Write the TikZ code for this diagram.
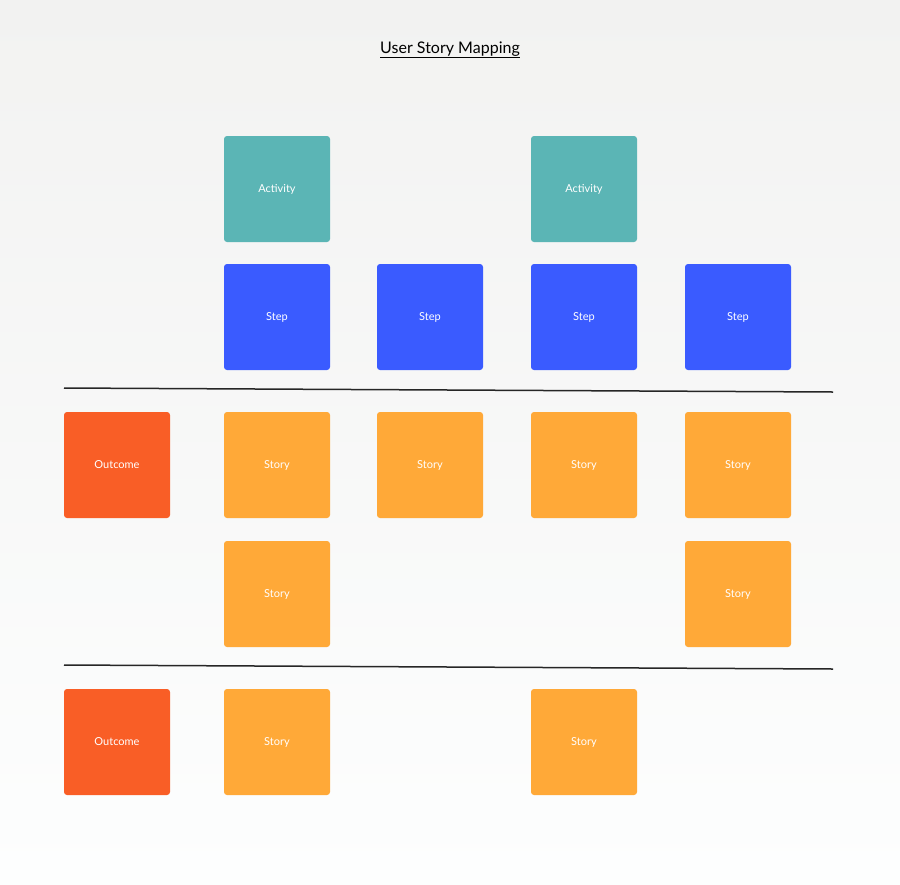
\documentclass[tikz,border=0pt]{standalone}
\usepackage{fontspec}
\setmainfont{Lato}
\definecolor{teal1}{HTML}{5BB5B5}
\definecolor{blue1}{HTML}{3A5BFF}
\definecolor{orange1}{HTML}{FFA938}
\definecolor{red1}{HTML}{F95E26}
\definecolor{bgtop}{HTML}{F2F2F1}
\definecolor{bgbot}{HTML}{FDFEFE}
\tikzset{card/.style={rounded corners=3pt, minimum width=106pt, minimum height=106pt, text=white, font=\fontsize{11}{13}\selectfont},
act/.style={card, fill=teal1}, stp/.style={card, fill=blue1}, sty/.style={card, fill=orange1}, outc/.style={card, fill=red1},
sep/.style={line width=1.5pt, draw=black!85}}
\begin{document}
\begin{tikzpicture}[x=1pt,y=-1pt]
\shade[top color=bgtop, bottom color=bgbot] (0,0) rectangle (900,884);
\useasboundingbox (0,0) rectangle (900,884);
\node (title) at (450,50) {\fontsize{16}{19}\selectfont\underline{User Story Mapping}};
\node[act] (a1) at (277,189) {Activity};
\node[act] (a2) at (584,189) {Activity};
\node[stp] (s1) at (277,317) {Step};
\node[stp] (s2) at (430,317) {Step};
\node[stp] (s3) at (584,317) {Step};
\node[stp] (s4) at (738,317) {Step};
\coordinate (l1a) at (64,388); \coordinate (l1b) at (833,392);
\draw[sep] (l1a) -- (l1b);
\node[outc] (o1) at (117,465) {Outcome};
\node[sty] (t1) at (277,465) {Story};
\node[sty] (t2) at (430,465) {Story};
\node[sty] (t3) at (584,465) {Story};
\node[sty] (t4) at (738,465) {Story};
\node[sty] (t5) at (277,594) {Story};
\node[sty] (t6) at (738,594) {Story};
\coordinate (l2a) at (64,665); \coordinate (l2b) at (833,669);
\draw[sep] (l2a) -- (l2b);
\node[outc] (o2) at (117,742) {Outcome};
\node[sty] (t7) at (277,742) {Story};
\node[sty] (t8) at (584,742) {Story};
\end{tikzpicture}
\end{document}
